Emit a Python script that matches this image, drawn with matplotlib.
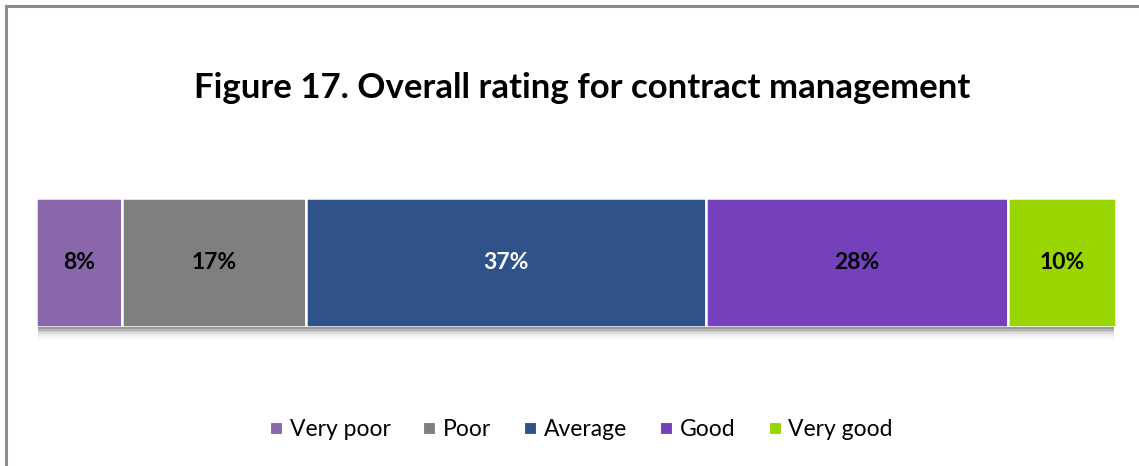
import matplotlib
matplotlib.use("Agg")
import matplotlib.pyplot as plt
from matplotlib.lines import Line2D
from matplotlib.patches import Rectangle

categories = ["Very poor", "Poor", "Average", "Good", "Very good"]
shares = [8, 17, 37, 28, 10]
colors = ["#8A67AB", "#7F7F7F", "#30528B", "#7540BB", "#99D500"]
label_colors = ["black", "black", "white", "black", "black"]
title = "Figure 17. Overall rating for contract management"

plt.rcParams["font.family"] = ["Lato", "DejaVu Sans"]

W, H = 1139, 466
fig = plt.figure(figsize=(W / 100, H / 100), dpi=100)
fig.patch.set_facecolor("white")

# outer frame (left and top edges visible)
fig.add_artist(Line2D([5.5 / W, 5.5 / W], [0, 1 - 5.5 / H], transform=fig.transFigure,
                      color="#8C8C8C", lw=2.2))
fig.add_artist(Line2D([5.5 / W, 1], [1 - 5.5 / H, 1 - 5.5 / H], transform=fig.transFigure,
                      color="#8C8C8C", lw=2.2))

ax = fig.add_axes([36 / W, (H - 327) / H, 1080 / W, 129 / H])
ax.set_xlim(0, sum(shares))
ax.set_ylim(-0.5, 0.5)
ax.axis("off")

# soft shadow beneath the stacked bar
for i, a in enumerate([0.14, 0.11, 0.08, 0.06, 0.04, 0.025, 0.015]):
    ax.add_patch(Rectangle((0.2, -0.5 - 0.014 * (i + 1)), sum(shares) - 0.4, 0.014 * (i + 1) + 0.02,
                           facecolor="black", alpha=a, edgecolor="none", clip_on=False, zorder=0))

left = 0
for cat, val, col, lc in zip(categories, shares, colors, label_colors):
    ax.barh(0, val, left=left, height=1.0, color=col, edgecolor="white", linewidth=1.8, zorder=2)
    ax.text(left + val / 2, 0, f"{val}%", ha="center", va="center", fontsize=16.5,
            fontweight="bold", color=lc, zorder=3)
    left += val

fig.text(582 / W, 1 - 88 / H, title, ha="center", va="center", fontsize=25, fontweight="bold")

handles = [Line2D([], [], marker="s", linestyle="none", markersize=8, markerfacecolor=c,
                  markeredgecolor="white", markeredgewidth=0.8) for c in colors]
fig.legend(handles, categories, loc="center", bbox_to_anchor=(581 / W, 1 - 430 / H), ncol=5,
           frameon=False, fontsize=16.5, handlelength=0.6, handletextpad=0.3, columnspacing=1.4)

fig.savefig("out.png", dpi=100, facecolor="white")
